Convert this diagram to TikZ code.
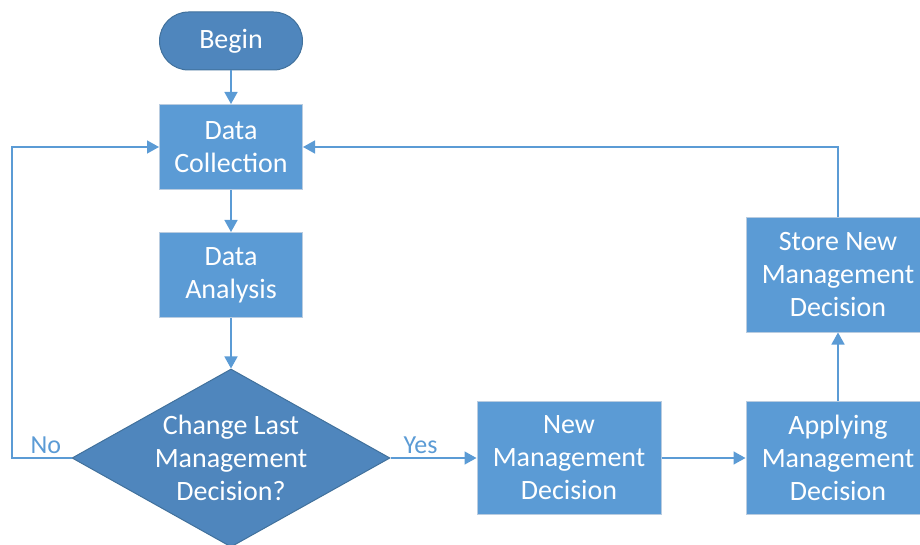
\documentclass[tikz,border=0pt]{standalone}
\usepackage{fontspec}
\setmainfont{Carlito}
\usetikzlibrary{shapes.geometric,arrows.meta}
\definecolor{boxblue}{HTML}{5B9BD5}
\definecolor{darkblue}{HTML}{4F86BD}
\definecolor{edgeblue}{HTML}{41719C}
\definecolor{boxedge}{HTML}{B9CCE0}
\tikzset{
  base/.style={text=white, align=center, font=\fontsize{28}{33}\selectfont},
  process/.style={base, rectangle, fill=boxblue, draw=boxedge, line width=1pt},
  startstop/.style={base, rectangle, rounded corners=29pt, fill=darkblue, draw=edgeblue,
    line width=1pt, minimum width=143pt, minimum height=58pt},
  decision/.style={base, diamond, aspect=1.79, inner sep=-3pt, fill=darkblue, draw=edgeblue,
    line width=1pt, minimum width=318pt, minimum height=178pt},
  flow/.style={draw=boxblue, line width=1.5pt, -{Triangle[length=12pt,width=13pt]}},
  answer/.style={text=boxblue, font=\fontsize{26}{30}\selectfont}
}
\begin{document}
\begin{tikzpicture}[x=1pt,y=-1pt]
  \useasboundingbox (0,0) rectangle (920,545);
  \node (begin) [startstop] at (231,41) {Begin};
  \node (collect) [process, minimum width=143pt, minimum height=85pt] at (231,147) {Data\\Collection};
  \node (analyse) [process, minimum width=143pt, minimum height=85pt] at (231,275) {Data\\Analysis};
  \node (change) [decision] at (231,458) {Change Last\\Management\\Decision?};
  \node (newdec) [process, minimum width=184pt, minimum height=113pt] at (569,458) {New\\Management\\Decision};
  \node (apply) [process, minimum width=184pt, minimum height=113pt] at (838,458) {Applying\\Management\\Decision};
  \node (store) [process, minimum width=184pt, minimum height=114pt] at (838,275) {Store New\\Management\\Decision};
  \coordinate (noend) at (12,458);
  \draw [flow] (begin) -- (collect);
  \draw [flow] (collect) -- (analyse);
  \draw [flow] (analyse) -- (change);
  \draw [flow] (change.east) -- node [answer, above, pos=0.35] {Yes} (newdec.west);
  \draw [flow] (newdec) -- (apply);
  \draw [flow] (apply) -- (store);
  \draw [flow] (store.north) |- (collect.east);
  \draw [flow] (change.west) -- node [answer, above, pos=0.43] {No} (noend) |- (collect.west);
\end{tikzpicture}
\end{document}
